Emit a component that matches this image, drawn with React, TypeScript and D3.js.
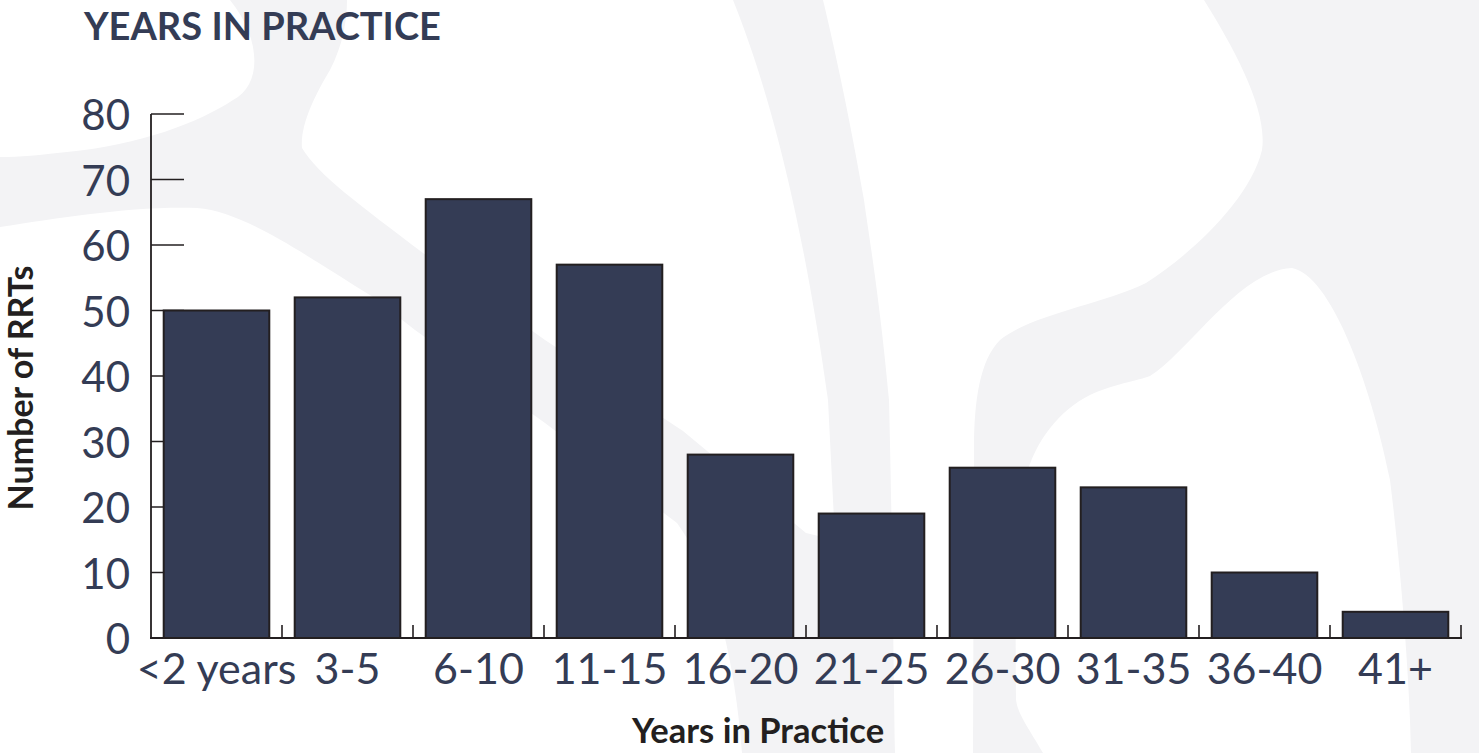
import React from "react";
import * as d3 from "d3";

const categories = ["<2 years", "3-5", "6-10", "11-15", "16-20", "21-25", "26-30", "31-35", "36-40", "41+"];
const counts = [50, 52, 67, 57, 28, 19, 26, 23, 10, 4];
const yTicks = [0, 10, 20, 30, 40, 50, 60, 70, 80];
const title = "YEARS IN PRACTICE";
const xTitle = "Years in Practice";
const yTitle = "Number of RRTs";

const W = 1479;
const H = 753;
const NAVY = "#343c55";
const INK = "#231f20";
const BG = "#f3f3f5";

// decorative background (white shapes on a light grey base)
const bgWhite = [
  "M0,0 L230,0 C262,40 262,85 233,100 C200,122 140,145 67,152 C40,155 20,157 0,157 Z",
  "M347,0 L733,0 C765,80 800,200 828,400 L835,540 L806,533 L683,431 L545,340 L423,253 C360,205 318,175 302,148 C300,125 315,95 330,70 C343,45 347,20 347,0 Z",
  "M0,227 C60,218 130,206 197,208 C245,212 300,252 373,297 L415,330 L545,423 L677,523 C715,575 735,660 742,753 L0,753 Z",
  "M823,0 L1204,0 C1235,50 1268,110 1262,150 C1250,200 1190,255 1146,283 C1100,305 1030,315 1000,340 C980,360 974,400 974,450 L973,753 L895,753 C893,600 891,480 889,400 C880,300 868,230 864,200 C850,120 835,50 823,0 Z",
  "M1043,753 C1030,730 1018,715 1016,700 C1015,600 1016,520 1025,480 C1035,440 1060,410 1090,395 C1110,385 1140,380 1150,376 C1190,350 1240,270 1292,268 C1330,275 1370,380 1390,480 C1400,560 1410,680 1411,753 Z",
];

export default function App() {
  const x = d3.scaleBand<string>().domain(categories).range([151, 1461]).paddingInner(0).paddingOuter(0);
  const y = d3.scaleLinear().domain([0, 80]).range([638, 114]);
  const step = x.step();
  const barPad = step * 0.097;
  const barW = step - 2 * barPad;
  const font = "Lato, 'Open Sans', sans-serif";

  return (
    <svg width={W} height={H} style={{ position: "fixed", left: 0, top: 0, display: "block" }} fontFamily={font}>
      <rect x={0} y={0} width={W} height={H} fill={BG} />
      {bgWhite.map((d, i) => (
        <path key={i} d={d} fill="#ffffff" />
      ))}

      <text x={84} y={40} fontSize={38} fontWeight={700} fill={NAVY}>{title}</text>

      {/* y ticks (drawn under bars) */}
      {yTicks.map((t) => (
        <g key={t}>
          {t > 0 && <line x1={151} x2={184} y1={y(t)} y2={y(t)} stroke={INK} strokeWidth={1.6} />}
          <text x={130} y={y(t) + 16} fontSize={42} fill={NAVY} textAnchor="end">{t}</text>
        </g>
      ))}

      {/* x minor ticks at band boundaries */}
      {categories.map((c) => (
        <line key={c} x1={x(c)! + step} x2={x(c)! + step} y1={y(0)} y2={y(0) - 13} stroke={INK} strokeWidth={1.6} />
      ))}

      {/* bars */}
      {categories.map((c, i) => (
        <rect
          key={c}
          x={x(c)! + barPad}
          y={y(counts[i])}
          width={barW}
          height={y(0) - y(counts[i])}
          fill={NAVY}
          stroke={INK}
          strokeWidth={2}
        />
      ))}

      {/* axes */}
      <line x1={151} x2={151} y1={y(80)} y2={y(0)} stroke={INK} strokeWidth={1.8} />
      <line x1={150} x2={1462} y1={y(0)} y2={y(0)} stroke={INK} strokeWidth={1.8} />

      {categories.map((c) => (
        <text key={c} x={x(c)! + step / 2} y={684} fontSize={43} fill={NAVY} textAnchor="middle">{c}</text>
      ))}

      <text x={758} y={743} fontSize={34.5} fontWeight={700} fill={INK} textAnchor="middle">{xTitle}</text>
      <text
        transform={`translate(33,388) rotate(-90)`}
        fontSize={34}
        fontWeight={700}
        fill={INK}
        textAnchor="middle"
      >{yTitle}</text>
    </svg>
  );
}
